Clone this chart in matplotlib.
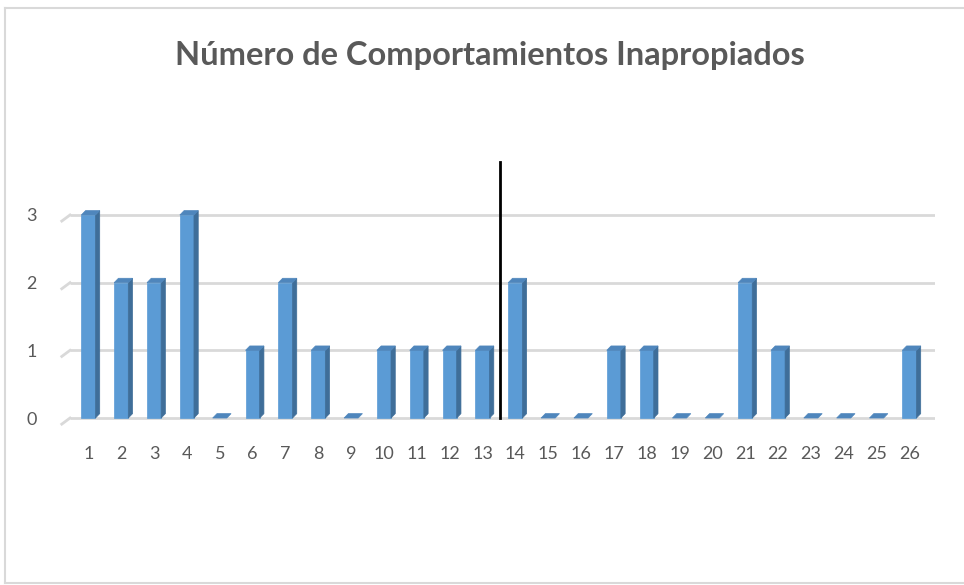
import matplotlib
matplotlib.use("Agg")
import matplotlib.pyplot as plt
from matplotlib.patches import Polygon, Rectangle
from matplotlib.lines import Line2D

categories = list(range(1, 27))
values = [3, 2, 2, 3, 0, 1, 2, 1, 0, 1, 1, 1, 1, 2, 0, 0, 1, 1, 0, 0, 2, 1, 0, 0, 0, 1]
yticks = [0, 1, 2, 3]
title = "Número de Comportamientos Inapropiados"
divider_x = 13.45
divider_top = 3.78

W, H = 964, 585
fig = plt.figure(figsize=(W / 100, H / 100), dpi=100)
fig.patch.set_facecolor("white")

# chart border
for (x0, y0, x1, y1) in [(5, H - 8, W, H - 8), (5, H - 8, 5, 2), (5, 2, W, 2)]:
    fig.add_artist(Line2D([x0 / W, x1 / W], [y0 / H, y1 / H], color="#D9D9D9", lw=1.5,
                          transform=fig.transFigure))

left_px, right_px = 70, 935
bottom_px, top_px = 425, 150
ax = fig.add_axes([left_px / W, 1 - bottom_px / H, (right_px - left_px) / W, (bottom_px - top_px) / H])
xmin, xmax = 0.36, 26.7
ymin, ymax = -0.103, 3.96
ax.set_xlim(xmin, xmax)
ax.set_ylim(ymin, ymax)
for s in ax.spines.values():
    s.set_visible(False)
ax.set_facecolor("none")

# gridlines with slanted left end
for yv in yticks:
    ax.plot([xmin, xmax], [yv, yv], color="#D9D9D9", lw=2, zorder=1, solid_capstyle="butt")
    ax.plot([xmin - 0.25, xmin], [yv - 0.09, yv], color="#D9D9D9", lw=2, zorder=1, clip_on=False)

front = "#5B9BD5"
side = "#3F6E99"
topc = "#4F86BC"
w = 0.43
dx, dy = 0.13, 0.065
for c, v in zip(categories, values):
    x0 = c - w / 2 - 0.08
    x1 = x0 + w
    if v > 0:
        ax.add_patch(Rectangle((x0, 0), w, v, facecolor=front, edgecolor=front, lw=0.5, zorder=3))
        ax.add_patch(Polygon([(x1, 0), (x1 + dx, dy), (x1 + dx, v + dy), (x1, v)],
                             closed=True, facecolor=side, edgecolor=side, lw=0.5, zorder=3))
    ax.add_patch(Polygon([(x0, v), (x1, v), (x1 + dx, v + dy), (x0 + dx, v + dy)],
                         closed=True, facecolor=topc, edgecolor=topc, lw=0.5, zorder=4))

ax.plot([divider_x, divider_x], [0, divider_top], color="black", lw=2, zorder=5)

ax.set_xticks([c - 0.08 for c in categories])
ax.set_xticklabels([str(c) for c in categories])
ax.set_yticks(yticks)
ax.set_yticklabels([str(v) for v in yticks])
ax.tick_params(length=0, labelsize=13, labelcolor="#595959")
ax.tick_params(axis="x", pad=15)
ax.tick_params(axis="y", pad=24)
for lbl in ax.get_xticklabels() + ax.get_yticklabels():
    lbl.set_fontfamily("Lato")

fig.text(490 / W, 1 - 56 / H, title, ha="center", va="center", fontsize=23.5,
         fontweight="bold", color="#595959", family="Lato")

fig.savefig("out.png", dpi=100, facecolor="white")
